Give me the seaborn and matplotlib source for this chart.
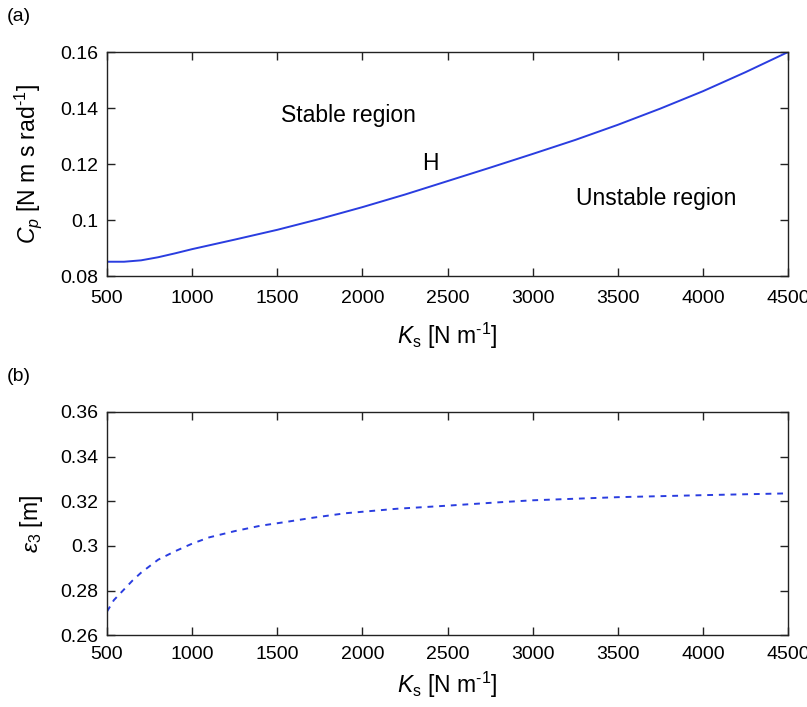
import matplotlib
matplotlib.use("Agg")
import matplotlib.pyplot as plt
import seaborn as sns
import pandas as pd

# Critical damping coefficient along the Hopf boundary
ks_cp = [500, 600, 700, 800, 900, 1000, 1250, 1500, 1750, 2000, 2250, 2500, 2750,
         3000, 3250, 3500, 3750, 4000, 4250, 4500]
cp = [0.0851, 0.0851, 0.0856, 0.0867, 0.0881, 0.0896, 0.0930, 0.0965, 0.1004,
      0.1046, 0.1091, 0.1139, 0.1187, 0.1236, 0.1286, 0.1340, 0.1398, 0.1460,
      0.1528, 0.1600]

# Amplitude epsilon_3 versus suspension stiffness
ks_eps = [500, 540, 600, 650, 700, 800, 900, 1000, 1100, 1250, 1400, 1550,
          1700, 1900, 2200, 2500, 2800, 3000, 3500, 4000, 4500]
eps3 = [0.2706, 0.2757, 0.2805, 0.2845, 0.2880, 0.2938, 0.2976, 0.3010, 0.3038,
        0.3066, 0.3090, 0.3107, 0.3125, 0.3146, 0.3166, 0.3180, 0.3195, 0.3204,
        0.3218, 0.3227, 0.3235]

x_ticks = [500, 1000, 1500, 2000, 2500, 3000, 3500, 4000, 4500]
cp_ticks = [0.08, 0.10, 0.12, 0.14, 0.16]
cp_ticklabels = ["0.08", "0.1", "0.12", "0.14", "0.16"]
eps_ticks = [0.26, 0.28, 0.30, 0.32, 0.34, 0.36]
eps_ticklabels = ["0.26", "0.28", "0.3", "0.32", "0.34", "0.36"]

sns.set_style("ticks")
plt.rcParams["font.family"] = ["Liberation Sans", "DejaVu Sans"]
plt.rcParams["mathtext.fontset"] = "custom"
plt.rcParams["mathtext.rm"] = "Liberation Sans"
plt.rcParams["mathtext.it"] = "Liberation Sans:italic"
plt.rcParams["axes.unicode_minus"] = False
plt.rcParams["text.color"] = "black"
plt.rcParams["axes.labelcolor"] = "black"

line_color = "#2a3de0"
label_size = 16.5
tick_size = 14

fig = plt.figure(figsize=(8.07, 7.07), dpi=100)
ax1 = fig.add_axes([0.1326, 0.6096, 0.8439, 0.3168])
ax2 = fig.add_axes([0.1326, 0.1015, 0.8439, 0.3160])

df_cp = pd.DataFrame({"Ks": ks_cp, "Cp": cp})
df_eps = pd.DataFrame({"Ks": ks_eps, "eps": eps3})

sns.lineplot(data=df_cp, x="Ks", y="Cp", ax=ax1, color=line_color, linewidth=1.4)
sns.lineplot(data=df_eps, x="Ks", y="eps", ax=ax2, color=line_color,
             linewidth=1.4, linestyle=(0, (3, 3)))

for ax, yt, ytl, ylim, xpad, lpad in [
        (ax1, cp_ticks, cp_ticklabels, (0.08, 0.16), 10, 10),
        (ax2, eps_ticks, eps_ticklabels, (0.26, 0.36), 8, 5)]:
    ax.set_xlim(500, 4500)
    ax.set_ylim(*ylim)
    ax.set_xticks(x_ticks)
    ax.set_xticklabels([str(t) for t in x_ticks])
    ax.set_yticks(yt)
    ax.set_yticklabels(ytl)
    ax.tick_params(direction="in", top=True, right=True, length=6, width=1,
                   labelsize=tick_size, colors="#222222", labelcolor="black")
    ax.tick_params(axis="x", pad=xpad)
    ax.tick_params(axis="y", pad=6)
    for sp in ax.spines.values():
        sp.set_linewidth(1.0)
        sp.set_color("#222222")
    ax.set_xlabel(r"$K_{\mathrm{s}}$ [N m$^{\text{-}1}$]", fontsize=label_size,
                  labelpad=lpad)

ax1.set_ylabel(r"$C_p$ [N m s rad$^{\text{-}1}$]", fontsize=label_size, labelpad=12)
ax2.set_ylabel(r"$\varepsilon_3$ [m]", fontsize=label_size, labelpad=11)

ax1.text(1920, 0.1372, "Stable region", fontsize=label_size, ha="center", va="center")
ax1.text(2400, 0.1202, "H", fontsize=label_size, ha="center", va="center")
ax1.text(3725, 0.1078, "Unstable region", fontsize=label_size, ha="center", va="center")

fig.text(0.008, 0.976, "(a)", fontsize=14, ha="left", va="center")
fig.text(0.008, 0.467, "(b)", fontsize=14, ha="left", va="center")

fig.savefig("out.png", dpi=100)
